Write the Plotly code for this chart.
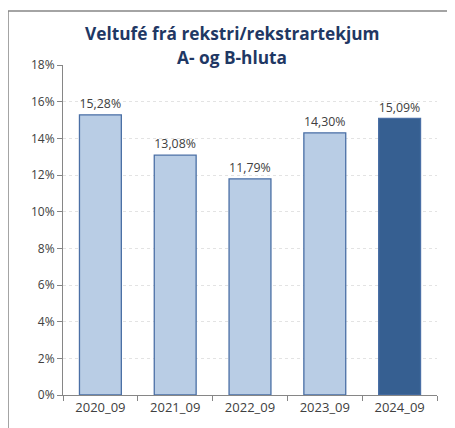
import plotly.graph_objects as go

categories = ["2020_09", "2021_09", "2022_09", "2023_09", "2024_09"]
values = [15.28, 13.08, 11.79, 14.30, 15.09]
y_ticks = [0, 2, 4, 6, 8, 10, 12, 14, 16, 18]
y_tick_labels = [f"{t}%" for t in y_ticks]
title_lines = ["Veltufé frá rekstri/rekstrartekjum", "A- og B-hluta"]

light = "#B9CDE5"
dark = "#365F91"
colors = [light] * (len(values) - 1) + [dark]
labels = [f"{v:.2f}%".replace(".", ",") for v in values]

OFF = 8  # page body margin
W, H = 455 - OFF, 428 - OFF
L, R, T, B = 63 - OFF, 18, 65 - OFF, 33

fig = go.Figure()
fig.add_trace(go.Bar(
    x=categories, y=values,
    marker=dict(color=colors, line=dict(color="#4A6FA5", width=1.3)),
    width=0.56,
    text=labels, textposition="outside",
    textfont=dict(family="Open Sans, Liberation Sans, sans-serif", size=13, color="#404040"),
    cliponaxis=False,
    hoverinfo="skip",
))

fig.update_layout(
    width=W, height=H,
    margin=dict(l=L, r=R, t=T, b=B),
    paper_bgcolor="white", plot_bgcolor="white",
    showlegend=False,
    font=dict(family="Open Sans, Liberation Sans, sans-serif", color="#404040"),
    bargap=0.44,
)
fig.update_yaxes(
    range=[0, 18], tickvals=y_ticks, ticktext=y_tick_labels,
    showgrid=True, gridcolor="#E3E3E3", griddash="dot", gridwidth=1,
    showline=True, linecolor="#868686", linewidth=1,
    ticks="outside", ticklen=5, tickcolor="#868686",
    tickfont=dict(size=12, color="#404040"),
    zeroline=False, fixedrange=True,
)
fig.update_xaxes(
    showline=True, linecolor="#868686", linewidth=1,
    ticks="outside", ticklen=5, tickcolor="#868686",
    tickson="boundaries",
    tickfont=dict(size=13, color="#404040"),
    fixedrange=True,
)

pw, ph = W - L - R, H - T - B
for i, line in enumerate(title_lines):
    fig.add_annotation(
        text=f"<b>{line}</b>", xref="paper", yref="paper",
        x=(232 - OFF - L) / pw, y=1 + (T - (34 - OFF + 24 * i)) / ph,
        xanchor="center", yanchor="middle", showarrow=False,
        font=dict(family="Open Sans, Liberation Sans, sans-serif", size=17.3, color="#1F3864"),
    )

# outer chart border (left and top edges visible)
fig.add_shape(
    type="rect", xref="paper", yref="paper",
    x0=(7 - OFF + 1 - L) / pw, x1=(W + 5 - L) / pw,
    y0=-(B + 10) / ph, y1=1 + (T - (11 - OFF)) / ph,
    line=dict(color="#868686", width=1.5), fillcolor="rgba(0,0,0,0)",
    layer="below",
)

fig.write_html("out.html")
